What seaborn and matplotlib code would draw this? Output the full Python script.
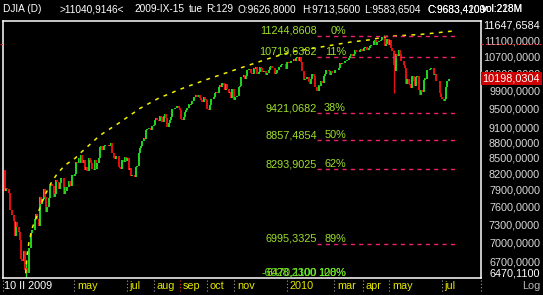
import numpy as np
import pandas as pd
import matplotlib
matplotlib.use("Agg")
import matplotlib.pyplot as plt
import matplotlib.transforms as mtransforms
from matplotlib.lines import Line2D
import seaborn as sns

# ---------------- data ----------------
first_date = "2009-02-10"
last_date = "2010-07-09"
market_holidays = ["2009-02-16", "2009-04-10", "2009-05-25", "2009-07-03", "2009-09-07",
                   "2009-11-26", "2009-12-25", "2010-01-01", "2010-01-18", "2010-02-15",
                   "2010-04-02", "2010-05-31", "2010-07-05"]
prev_close = 8270.87
closes = [
    # Feb 2009
    7888.88, 7939.53, 7932.76, 7850.41, 7552.60, 7555.63, 7465.95, 7365.67, 7114.78, 7350.94,
    7270.89, 7182.08, 7062.93,
    # Mar 2009
    6763.29, 6726.02, 6875.84, 6594.44, 6626.94, 6547.05, 6926.49, 6930.40, 7170.06, 7223.98,
    7216.97, 7395.70, 7486.58, 7400.80, 7278.38, 7775.86, 7660.21, 7749.81, 7924.56, 7776.18,
    7522.02, 7608.92,
    # Apr 2009
    7761.60, 7978.08, 8017.59, 7975.85, 7789.56, 7837.11, 8083.38, 8057.81, 7920.18, 8029.62,
    8125.43, 8131.33, 7841.73, 7969.56, 7886.57, 7957.06, 8076.29, 8025.00, 7975.83, 8185.73,
    8168.12,
    # May 2009
    8212.41, 8426.74, 8410.65, 8512.28, 8409.85, 8574.65, 8418.77, 8469.11, 8284.89, 8331.32,
    8268.64, 8504.08, 8474.85, 8422.04, 8292.13, 8277.32, 8473.49, 8300.02, 8403.80, 8500.33,
    # Jun 2009
    8721.44, 8740.87, 8675.24, 8750.24, 8763.13, 8764.49, 8763.06, 8739.02, 8770.92, 8799.26,
    8612.13, 8504.67, 8497.18, 8555.60, 8539.73, 8339.01, 8322.91, 8299.86, 8472.40, 8438.39,
    8529.38, 8447.00,
    # Jul 2009
    8504.06, 8280.74, 8324.87, 8163.60, 8178.41, 8183.17, 8146.52, 8331.68, 8359.49, 8616.21,
    8711.82, 8743.94, 8848.15, 8915.94, 8881.26, 9069.29, 9093.24, 9108.51, 9096.72, 9070.72,
    9154.46, 9171.61,
    # Aug 2009
    9286.56, 9320.19, 9280.97, 9256.26, 9370.07, 9337.95, 9241.45, 9362.17, 9398.19, 9321.40,
    9135.34, 9217.94, 9279.16, 9350.05, 9505.96, 9509.28, 9539.29, 9543.52, 9580.63, 9544.20,
    9496.28,
    # Sep 2009
    9310.60, 9280.67, 9344.61, 9441.27, 9497.34, 9547.22, 9627.48, 9605.41, 9626.80, 9683.41,
    9791.71, 9783.92, 9820.20, 9778.86, 9829.87, 9748.55, 9707.44, 9665.19, 9789.36, 9742.20,
    9712.28,
    # Oct 2009
    9509.28, 9487.67, 9599.75, 9731.25, 9725.58, 9786.87, 9864.94, 9885.80, 9871.06, 10015.86,
    10062.94, 9995.91, 10092.19, 10041.48, 9949.36, 10081.31, 9972.18, 9867.96, 9882.17, 9762.69,
    9962.58, 9712.73,
    # Nov 2009
    9789.44, 9771.91, 9802.14, 10005.96, 10023.42, 10226.94, 10246.97, 10291.26, 10197.47, 10270.47,
    10406.96, 10437.42, 10426.31, 10332.44, 10318.16, 10450.95, 10433.71, 10464.40, 10309.92, 10344.84,
    # Dec 2009
    10471.58, 10452.68, 10366.15, 10388.90, 10390.11, 10285.97, 10337.05, 10405.83, 10471.50, 10501.05,
    10452.00, 10441.12, 10308.26, 10328.89, 10414.14, 10464.93, 10466.44, 10520.10, 10547.08, 10545.41,
    10548.51, 10428.05,
    # Jan 2010
    10583.96, 10572.02, 10573.68, 10606.86, 10618.19, 10663.99, 10627.26, 10680.77, 10710.55, 10609.65,
    10725.43, 10603.15, 10389.88, 10172.98, 10196.86, 10194.29, 10236.16, 10120.46, 10067.33,
    # Feb 2010
    10185.53, 10296.85, 10270.55, 10002.18, 10012.23, 9908.39, 10058.64, 10038.38, 10144.19, 10099.14,
    10268.81, 10309.24, 10392.90, 10402.35, 10383.38, 10282.41, 10374.16, 10321.03, 10325.26,
    # Mar 2010
    10403.79, 10405.98, 10396.76, 10444.14, 10566.20, 10552.52, 10564.38, 10567.33, 10611.84, 10624.69,
    10642.15, 10685.98, 10733.67, 10779.17, 10741.98, 10785.89, 10888.83, 10836.15, 10841.21, 10850.36,
    10895.86, 10907.42, 10856.63,
    # Apr 2010
    10927.07, 10973.55, 10969.99, 10897.52, 10927.07, 10997.35, 11005.97, 11019.42, 11123.11, 11144.57,
    11018.66, 11092.05, 11117.06, 11124.92, 11134.29, 11204.28, 11205.03, 10991.99, 11045.27, 11167.32,
    11008.61,
    # May 2010
    11151.83, 10926.77, 10868.12, 10520.32, 10380.43, 10785.14, 10748.26, 10896.91, 10782.95, 10620.16,
    10625.83, 10510.95, 10444.37, 10068.01, 10193.39, 10066.57, 10043.75, 9974.45, 10258.99, 10136.63,
    # Jun 2010
    10024.02, 10249.54, 10255.28, 9931.97, 9816.49, 9939.98, 9899.25, 10172.53, 10211.07, 10190.89,
    10404.77, 10409.46, 10434.17, 10450.64, 10442.41, 10293.52, 10298.44, 10152.80, 10143.81, 10138.52,
    9870.30, 9774.02,
    # Jul 2010
    9732.53, 9686.48, 9743.62, 10018.28, 10138.99, 10198.03,
]
last_price = 10198.0304
wick_days = ["2009-03-06", "2010-04-26", "2010-05-06"]
wick_lows = [6469.95, 11159.00, 9869.62]
wick_highs = [6699.00, 11258.01, 10879.76]

# dotted trend curve (bar index, price)
curve_idx = [16.7, 18.0, 19.6, 22.3, 26.0, 29.5, 33.0, 37.5, 42.3, 48.2, 56.2, 61.5, 76.2, 92.2,
             108.2, 124.2, 132.2, 137.8, 158.6, 188.2, 212.2, 228.2, 252.2, 276.2, 292.2, 305.5,
             318.6, 332.2, 342.6, 357.5]
curve_price = [6540, 6850, 7055, 7273, 7470, 7676, 7859, 8058, 8220, 8371, 8504, 8629, 8963, 9232,
               9531, 9772, 9856, 9930, 10150, 10448, 10689, 10836, 10960, 11086, 11146, 11231,
               11256, 11282, 11315, 11367]

fib_values = [11244.8608, 10719.6382, 9421.0682, 8857.4854, 8293.9025, 6995.3325, 6470.1100]
fib_pcts = ["0%", "11%", "38%", "50%", "62%", "89%", "100%"]
fib_start, fib_end = 249.8, 360.7

y_max, y_min = 11647.6584, 6470.1100
axis_levels = [11100, 10700, 10300, 9900, 9500, 9100, 8800, 8500, 8200, 7900, 7600, 7300, 7000, 6700]
cursor_price = 11050
month_ticks = ["2009-05-01", "2009-07-01", "2009-08-03", "2009-09-01", "2009-10-01", "2009-11-02",
               "2010-01-04", "2010-03-01", "2010-04-01", "2010-05-03", "2010-07-01"]
month_labels = ["may", "jul", "aug", "sep", "oct", "nov", "2010", "mar", "apr", "may", "jul"]
cursor_month = "sep"
header_texts = ["DJIA (D)", ">11040,9146<", "2009-IX-15", "tue", "R:129", "O:9626,8000",
                "H:9713,5600", "L:9583,6504", "C:9683,4100", "C:9683,4209", "vol:228M", "vol:218M"]
header_x = [3, 60, 134, 189, 206, 238, 302, 364, 427, 427, 482, 482]

# ---------------- style ----------------
sns.set_style("dark", {"axes.facecolor": "black", "figure.facecolor": "black"})
plt.rcParams["font.family"] = ["Liberation Sans", "DejaVu Sans"]

W, H = 543, 295
fig = plt.figure(figsize=(W / 100, H / 100), dpi=100, facecolor="black")
x0, x1, yt, yb = 3.3, 480.7, 20.5, 278.0
ax = fig.add_axes([x0 / W, 1 - yb / H, (x1 - x0) / W, (yb - yt) / H])
ax.set_facecolor("black")

GREEN, RED = "#1ee01e", "#ee1111"
FIBTXT = "#9ee02a"
FS = 7.8
HFS = 7.3

dates = pd.bdate_range(first_date, last_date, freq="C", holidays=market_holidays)
c = np.array(closes)
o = np.array([prev_close] + closes[:-1])
xi = np.arange(len(c))
lo = np.minimum(o, c)
hi = np.maximum(o, c)
up = c >= o
colors = np.where(up, GREEN, RED)

# wicks for notable days
for d, wl, wh in zip(wick_days, wick_lows, wick_highs):
    k = int(dates.get_loc(pd.Timestamp(d)))
    ax.vlines(k, wl, wh, colors=colors[k], lw=0.9)
ax.vlines(xi, lo, hi, colors=colors, lw=1.35)

# dotted curve
sns.lineplot(x=curve_idx, y=curve_price, ax=ax, color="#f2f200", lw=1.1, sort=False)
ax.lines[-1].set_linestyle((0, (2.5, 3.5)))

# fib levels
tr = mtransforms.offset_copy(ax.transData, fig=fig, x=0, y=1.6, units="points")
for v, p in zip(fib_values, fib_pcts):
    ax.hlines(v, fib_start, fib_end, colors="#f0206a", lw=1.0, linestyles=(0, (3, 3)))
    ax.text(fib_start - 0.3, v, f"{v:.4f}".replace(".", ","), color=FIBTXT, fontsize=FS,
            ha="right", va="baseline", transform=tr)
    ax.text(272.9, v, p, color=FIBTXT, fontsize=FS, ha="right", va="baseline", transform=tr)
# overlapping text at bottom level
ax.text(fib_start - 0.3, y_min, "-6028,2300", color="#5cf025", fontsize=FS, ha="right",
        va="baseline", transform=tr)
ax.text(272.9, y_min, "128%", color="#5cf025", fontsize=FS, ha="right", va="baseline", transform=tr)

ax.set_yscale("log")
ax.set_ylim(y_min, y_max)
ax.set_xlim(-1.2, 380.7)
ax.set_xticks([])
ax.set_yticks([])
ax.yaxis.set_minor_locator(matplotlib.ticker.NullLocator())
for s in ax.spines.values():
    s.set_color("white")
    s.set_linewidth(1.1)
ax.grid(False)

# right axis labels
rt = mtransforms.blended_transform_factory(fig.transFigure, ax.transData)
for v in axis_levels:
    ax.text(540 / W, v, f"{v},0000", color="#d8d8d8", fontsize=FS, ha="right", va="center",
            transform=rt, clip_on=False)
ax.text(540 / W, y_max, f"{y_max:.4f}".replace(".", ","), color="white", fontsize=FS,
        ha="right", va="top", transform=rt, clip_on=False)
ax.text(540 / W, y_min, f"{y_min:.4f}".replace(".", ","), color="white", fontsize=FS,
        ha="right", va="bottom", transform=rt, clip_on=False)
ax.text(540 / W, last_price, f"{last_price:.4f}".replace(".", ","), color="white", fontsize=FS,
        ha="right", va="center", transform=rt, clip_on=False,
        bbox=dict(boxstyle="square,pad=0.15", fc="#cc0000", ec="none"))
# horizontal cursor line outside the plot
for xa, xb in [(0, x0), (x1, W)]:
    fig.add_artist(Line2D([xa / W, xb / W], [cursor_price, cursor_price], transform=rt,
                          color="#e02020", lw=0.8, ls=(0, (2, 2))))

# x axis labels with separators
xt = mtransforms.blended_transform_factory(ax.transData, fig.transFigure)
ly = 1 - 286 / H
sep_y = [1 - 280 / H, 1 - 293 / H]
tick_idx = [int(dates.searchsorted(pd.Timestamp(d))) for d in month_ticks]
fig.add_artist(Line2D([x0 / W, x0 / W], sep_y, color="#a0a0a0", lw=0.8, ls=(0, (1, 2))))
fig.text(4.5 / W, ly, "10 II 2009", color="white", fontsize=FS, ha="left", va="center")
lt = mtransforms.offset_copy(xt, fig=fig, x=2.0, y=0, units="points")
for k, lab in zip(tick_idx, month_labels):
    sx = k - 0.5
    col = "#e02020" if lab == cursor_month else "#a0a0a0"
    fig.add_artist(Line2D([sx, sx], sep_y, transform=xt, color=col, lw=0.8, ls=(0, (1, 2))))
    fig.text(sx, ly, lab, color="#e6e600", fontsize=FS, ha="left", va="center", transform=lt)
fig.add_artist(Line2D([x1 / W, x1 / W], sep_y, color="#a0a0a0", lw=0.8, ls=(0, (1, 2))))
fig.text(540 / W, ly, "Log", color="#b8b8b8", fontsize=FS, ha="right", va="center")

# header
for t, hx in zip(header_texts, header_x):
    fig.text(hx / W, 1 - 9 / H, t, color="white", fontsize=HFS, ha="left", va="center")

fig.savefig("out.png", dpi=100, facecolor="black")
